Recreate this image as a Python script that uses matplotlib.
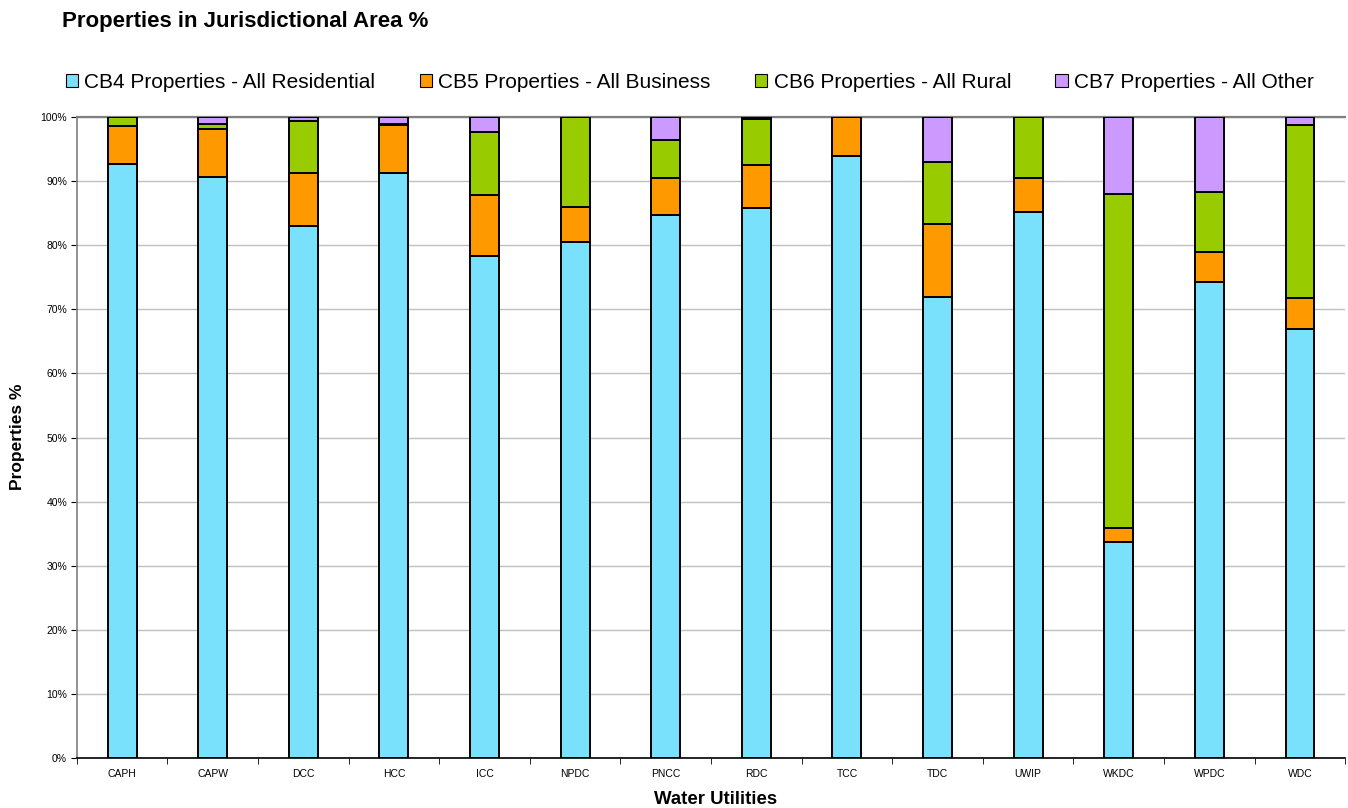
import matplotlib

matplotlib.use("Agg")
import matplotlib.pyplot as plt
import numpy as np
from matplotlib.patches import Patch
from matplotlib.ticker import FixedLocator, PercentFormatter

plt.rcParams["font.family"] = ["Liberation Sans", "DejaVu Sans"]

utilities = ["CAPH", "CAPW", "DCC", "HCC", "ICC", "NPDC", "PNCC",
             "RDC", "TCC", "TDC", "UWIP", "WKDC", "WPDC", "WDC"]

# share of properties by rating class, per utility (%)
residential = [92.7, 90.6, 83.0, 91.3, 78.3, 80.5, 84.7, 85.8, 93.9, 71.9, 85.2, 33.7, 74.3, 66.9]
business = [5.9, 7.5, 8.3, 7.5, 9.5, 5.5, 5.8, 6.7, 6.1, 11.4, 5.3, 2.2, 4.6, 4.9]
rural = [1.4, 0.8, 8.1, 0.1, 9.9, 14.0, 5.9, 7.2, 0.0, 9.7, 9.5, 52.1, 9.4, 27.0]
other = [0.0, 1.1, 0.6, 1.1, 2.3, 0.0, 3.6, 0.3, 0.0, 7.0, 0.0, 12.0, 11.7, 1.2]

series = [
    ("CB4 Properties - All Residential", residential, "#79E1FC"),
    ("CB5 Properties - All Business", business, "#FF9900"),
    ("CB6 Properties - All Rural", rural, "#99CC00"),
    ("CB7 Properties - All Other", other, "#CC99FF"),
]

fig = plt.figure(figsize=(13.48, 8.08), dpi=100)
ax = fig.add_axes([0.057, 0.062, 0.941, 0.793])

x = np.arange(len(utilities))
bottom = np.zeros(len(utilities))
handles = []
for label, values, color in series:
    vals = np.array(values)
    ax.bar(x, vals, 0.32, bottom=bottom, color=color,
           edgecolor="black", linewidth=1.4, zorder=3)
    bottom += vals
    handles.append(Patch(facecolor=color, edgecolor="black", linewidth=0.8, label=label))

ax.set_xlim(-0.5, len(utilities) - 0.5)
ax.set_ylim(0, 100)
ax.yaxis.set_major_locator(FixedLocator(np.arange(0, 101, 10)))
ax.yaxis.set_major_formatter(PercentFormatter(decimals=0))
ax.grid(axis="y", color="#C0C0C0", linewidth=1.0, zorder=0)
ax.set_axisbelow(True)

ax.set_xticks(x)
ax.set_xticklabels(utilities, fontsize=7.5)
ax.xaxis.set_minor_locator(FixedLocator(np.arange(-0.5, len(utilities), 1.0)))
ax.tick_params(axis="x", which="major", length=0, pad=8)
ax.tick_params(axis="x", which="minor", length=4, color="black", direction="out")
ax.tick_params(axis="y", labelsize=7.5, length=4, direction="out", pad=3)

ax.spines["right"].set_visible(False)
ax.spines["top"].set_color("#808080")
ax.spines["top"].set_linewidth(1.6)
ax.spines["left"].set_color("#808080")
ax.spines["left"].set_linewidth(1.2)
ax.spines["bottom"].set_color("black")
ax.spines["bottom"].set_linewidth(1.2)

fig.text(0.046, 0.974, "Properties in Jurisdictional Area %",
         fontsize=16, fontweight="bold", va="center", ha="left")
fig.text(0.013, 0.459, "Properties %", fontsize=12.5, fontweight="bold",
         rotation=90, va="center", ha="center")
fig.text(0.531, 0.01, "Water Utilities", fontsize=13.4, fontweight="bold",
         va="center", ha="center")

fig.legend(handles=handles, ncol=4, loc="center left",
           bbox_to_anchor=(0.0425, 0.898), frameon=False, fontsize=15,
           handlelength=0.6, handleheight=0.6, handletextpad=0.3,
           columnspacing=2.12, borderaxespad=0)

fig.savefig("out.png", dpi=100)
